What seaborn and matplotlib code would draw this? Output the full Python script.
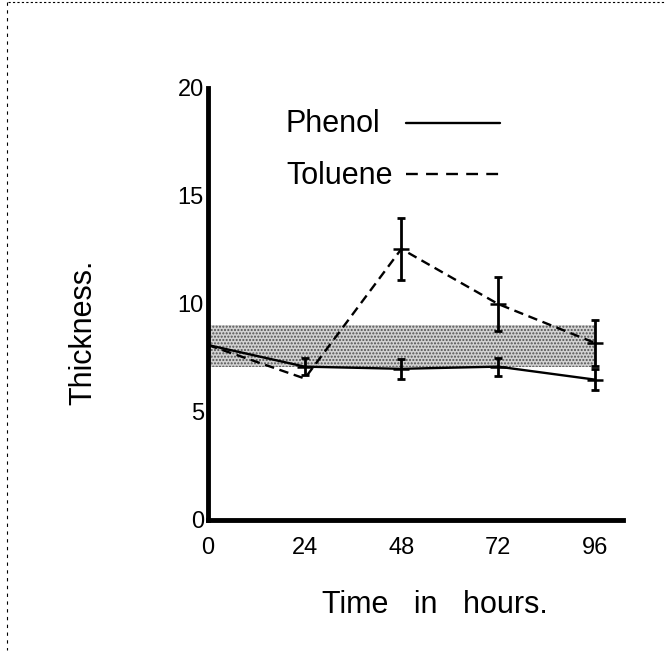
import numpy as np
import pandas as pd
import matplotlib
matplotlib.use("Agg")
import matplotlib.pyplot as plt
import seaborn as sns

# data
hours = [0, 24, 48, 72, 96]
phenol = [8.1, 7.1, 7.0, 7.1, 6.5]
phenol_err = [0.0, 0.4, 0.45, 0.42, 0.48]
toluene = [8.1, 6.55, 12.55, 10.0, 8.2]
toluene_err = [0.0, 0.0, 1.45, 1.25, 1.07]
band_x = [0, 96]
band_low = [7.1, 7.1]
band_high = [9.05, 9.05]
series = ['Phenol', 'Toluene']

df = pd.DataFrame({
    'Time': hours * 2,
    'Thickness': phenol + toluene,
    'Solvent': ['Phenol'] * 5 + ['Toluene'] * 5,
})

sns.set_style("white", rc={'text.color': 'black', 'axes.labelcolor': 'black',
                           'xtick.color': 'black', 'ytick.color': 'black'})
plt.rcParams['font.family'] = ['Liberation Sans', 'DejaVu Sans']
plt.rcParams['hatch.linewidth'] = 1.0

fig = plt.figure(figsize=(6.66, 6.70), dpi=100)
ax = fig.add_axes([208 / 666, 150 / 670, 415 / 666, 432 / 670])

# stippled band
ax.fill_between(band_x, band_low, band_high, facecolor='#d2d2d2',
                edgecolor='#505050', hatch='.....', linewidth=0, zorder=1)

dash_style = {'Phenol': '', 'Toluene': (4, 2.4)}
sns.lineplot(data=df, x='Time', y='Thickness', style='Solvent',
             dashes=dash_style, color='black', linewidth=1.7, ax=ax,
             zorder=3, legend=False)

ax.errorbar(hours[1:], phenol[1:], yerr=phenol_err[1:], fmt='none',
            ecolor='black', elinewidth=2, capsize=3, capthick=2, zorder=4)
ax.errorbar(hours[2:], toluene[2:], yerr=toluene_err[2:], fmt='none',
            ecolor='black', elinewidth=2, capsize=3, capthick=2, zorder=4)
# small cross marks at the means
ax.plot(hours[1:], phenol[1:], '_', color='black', ms=12, mew=1.8, zorder=4)
ax.plot(hours[2:], toluene[2:], '_', color='black', ms=12, mew=1.8, zorder=4)

ax.set_xlim(0, 103)
ax.set_ylim(0, 20)
ax.set_xticks(hours)
ax.set_yticks([0, 5, 10, 15, 20])
ax.tick_params(length=0, labelsize=17)
ax.tick_params(axis='x', pad=12)
ax.tick_params(axis='y', pad=3)
for s in ['top', 'right']:
    ax.spines[s].set_visible(False)
for s in ['left', 'bottom']:
    ax.spines[s].set_linewidth(3.5)
    ax.spines[s].set_color('black')

ax.set_xlabel('Time   in   hours.', fontsize=22, va='center')
ax.xaxis.set_label_coords(0.547, -0.197)
ax.set_ylabel('Thickness.', fontsize=22, va='center')
ax.yaxis.set_label_coords(-0.301, 0.435)

# legend: label on the left, line sample on the right
for name, base_y, line_y in zip(series, [132, 184], [123, 174]):
    fig.text(286 / 666, 1 - base_y / 670, name, fontsize=22, ha='left',
             va='baseline')
    fig.add_artist(plt.Line2D([406 / 666, 500 / 666], [1 - line_y / 670] * 2,
                              color='black', lw=1.7,
                              linestyle='-' if name == 'Phenol' else (0, (5, 3.5)),
                              transform=fig.transFigure))

# scan border
fig.add_artist(plt.Line2D([0.012, 0.999], [0.997, 0.997], color='black',
                          lw=0.8, linestyle=(0, (2, 2)), transform=fig.transFigure))
fig.add_artist(plt.Line2D([0.011, 0.011], [0.997, 0.03], color='black',
                          lw=0.8, linestyle=(0, (3, 4)), transform=fig.transFigure))

plt.savefig('out.png', dpi=100)
